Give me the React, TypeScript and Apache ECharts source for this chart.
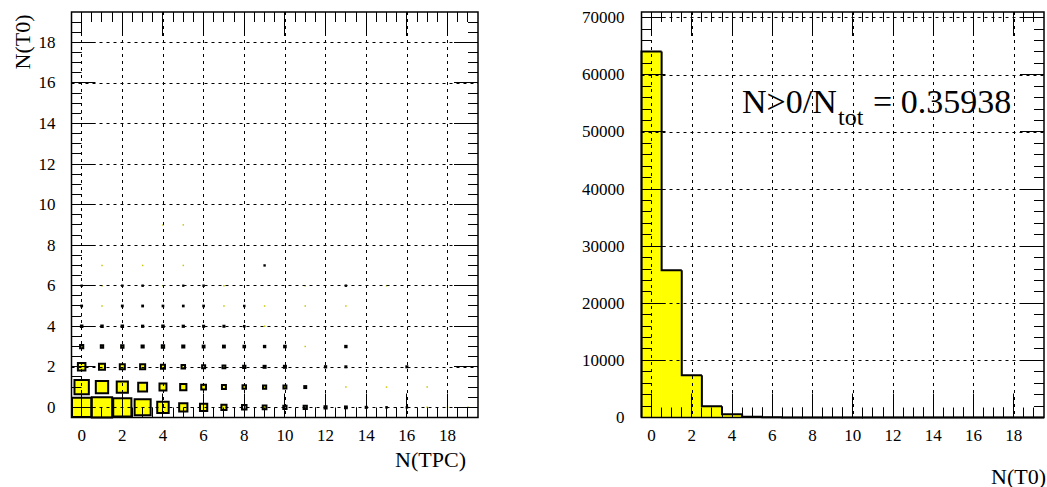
import React, { useEffect, useRef } from 'react';
import * as echarts from 'echarts';

// bins (shared by N(TPC) and N(T0))
const BINS = [0, 1, 2, 3, 4, 5, 6, 7, 8, 9, 10, 11, 12, 13, 14, 15, 16, 17, 18, 19];
const BIN_TICKS = [0, 2, 4, 6, 8, 10, 12, 14, 16, 18];
const COUNT_TICKS = [0, 10000, 20000, 30000, 40000, 50000, 60000, 70000];

// right panel: N(T0) distribution
const T0_COUNTS = [64062, 25800, 7400, 1950, 550, 150, 50, 20, 10, 5, 3, 0, 0, 0, 0, 0, 0, 0, 0, 0];

// left panel: counts per N(TPC) bin, one array per N(T0) row
const ROW_T0_0 = [13870, 15425, 12350, 9615, 4890, 2535, 1975, 985, 755, 525, 385, 385, 170, 125, 43, 11, 11, 2, 2, 2];
const ROW_T0_1 = [7700, 5700, 4650, 2950, 1800, 1450, 840, 580, 450, 375, 330, 145, 0, 3, 0, 2, 0, 2, 0, 0];
const ROW_T0_2 = [2100, 1350, 950, 950, 600, 460, 340, 300, 200, 150, 150, 0, 60, 40, 0, 0, 40, 0, 0, 0];
const ROW_T0_3 = [380, 210, 210, 170, 210, 170, 125, 125, 95, 70, 95, 2, 0, 70, 0, 0, 0, 0, 0, 0];
const ROW_T0_4 = [85, 85, 85, 57, 85, 57, 41, 41, 15, 3, 0, 0, 0, 0, 0, 0, 0, 0, 0, 0];
const ROW_T0_5 = [25, 3, 25, 25, 18, 18, 18, 3, 8, 3, 0, 3, 0, 3, 0, 0, 0, 0, 0, 0];
const ROW_T0_6 = [6, 2, 8, 8, 3, 4, 8, 2, 0, 0, 0, 2, 0, 8, 0, 2, 0, 0, 0, 0];
const ROW_T0_7 = [0, 2, 0, 2, 0, 2, 0, 0, 0, 5, 0, 0, 0, 0, 0, 0, 0, 0, 0, 0];
const ROW_T0_8 = [0, 0, 0, 0, 0, 0, 0, 0, 0, 0, 0, 0, 0, 0, 0, 0, 0, 0, 0, 0];
const ROW_T0_9 = [0, 0, 0, 0, 1, 3, 0, 0, 0, 0, 0, 0, 0, 0, 0, 0, 0, 0, 0, 0];
const ROWS = [ROW_T0_0, ROW_T0_1, ROW_T0_2, ROW_T0_3, ROW_T0_4, ROW_T0_5, ROW_T0_6, ROW_T0_7, ROW_T0_8, ROW_T0_9];

const X_TITLE_LEFT = 'N(TPC)';
const Y_TITLE_LEFT = 'N(T0)';
const X_TITLE_RIGHT = 'N(T0)';

const FONT = 'Liberation Serif';
const YELLOW = '#ffff00';

const BIN_MIN = -0.5;
const BIN_MAX = 19.5;
const COUNT_MAX = 71000;

export default function App() {
  const ref = useRef<HTMLDivElement>(null);

  useEffect(() => {
    if (!ref.current) return;
    const chart = echarts.init(ref.current, undefined, { renderer: 'svg' });

    const boxData: number[][] = [];
    ROWS.forEach((row, y) => row.forEach((v, i) => { if (v > 0) boxData.push([BINS[i], y, v]); }));
    const maxCount = Math.max(...boxData.map(d => d[2]));

    const histData = BINS.map((b, i) => [b, T0_COUNTS[i]]);
    const total = T0_COUNTS.reduce((a, b) => a + b, 0);
    const ratio = (total - T0_COUNTS[0]) / total;

    const binMinor: number[] = [];
    BIN_TICKS.forEach(t => [-0.5, 0.5, 1, 1.5].forEach(d => { const v = t + d; if (v > BIN_MIN && v < BIN_MAX) binMinor.push(v); }));
    const countMinor: number[] = [];
    COUNT_TICKS.forEach(t => [2000, 4000, 6000, 8000].forEach(d => { if (t + d < COUNT_MAX) countMinor.push(t + d); }));

    const labelStyle = { color: '#000', fontFamily: FONT, fontSize: 17 };
    const intFmt = (v: number) => (Math.abs(v - Math.round(v)) < 1e-9 ? String(Math.round(v)) : '');
    const splitLine = { show: true, showMinLine: false, showMaxLine: false, lineStyle: { color: '#000', width: 1, type: [3, 4] } };

    const binAxis = (grid: number, margin: number) => ({
      type: 'value', gridIndex: grid, min: BIN_MIN, max: BIN_MAX, minInterval: 2, maxInterval: 2, splitNumber: 10, z: 5,
      axisLine: { show: false, onZero: false }, axisTick: { show: false },
      axisLabel: { ...labelStyle, formatter: intFmt, margin }, splitLine,
    });

    const gridStyle = { show: true, z: 6, backgroundColor: 'transparent', borderColor: '#000', borderWidth: 1.5, containLabel: false };

    chart.setOption({
      animation: false,
      backgroundColor: '#fff',
      textStyle: { fontFamily: FONT },
      grid: [
        { ...gridStyle, left: 71.5, top: 12, width: 406.5, height: 405.5 },
        { ...gridStyle, left: 641.5, top: 12, width: 404.5, height: 405.5 },
      ],
      xAxis: [binAxis(0, 9), binAxis(1, 9)],
      yAxis: [
        binAxis(0, 16),
        {
          type: 'value', gridIndex: 1, min: 0, max: COUNT_MAX, interval: 10000, z: 5,
          axisLine: { show: false, onZero: false }, axisTick: { show: false },
          axisLabel: { ...labelStyle, margin: 17, formatter: (v: number) => (v % 10000 === 0 ? String(v) : '') },
          splitLine,
        },
      ],
      series: [
        {
          type: 'custom',
          xAxisIndex: 0,
          yAxisIndex: 0,
          z: 2,
          clip: false,
          data: boxData,
          renderItem: (params: any, api: any) => {
            const x = api.value(0), y = api.value(1), v = api.value(2);
            const c = api.coord([x, y]);
            const s = api.size([1, 1]);
            if (v < 4) {
              return { type: 'rect', shape: { x: c[0] - 0.75, y: c[1] - 0.75, width: 1.5, height: 1.5 }, style: { fill: '#c8c800' } };
            }
            const r = Math.sqrt(v / maxCount);
            const w = s[0] * r, h = s[1] * r;
            return {
              type: 'rect',
              shape: { x: c[0] - w / 2, y: c[1] - h / 2, width: w, height: h },
              style: { fill: YELLOW, stroke: '#000', lineWidth: 2 },
            };
          },
        },
        {
          type: 'custom',
          xAxisIndex: 1,
          yAxisIndex: 1,
          z: 2,
          clip: false,
          data: histData,
          renderItem: (params: any, api: any) => {
            const i = params.dataIndex;
            const x = api.value(0), v = api.value(1);
            const prev = i > 0 ? T0_COUNTS[i - 1] : 0;
            const p0 = api.coord([x - 0.5, 0]);
            const p1 = api.coord([x + 0.5, v]);
            const pp = api.coord([x - 0.5, prev]);
            const pts = [[pp[0], pp[1]], [p0[0], p1[1]], [p1[0], p1[1]]];
            if (i === T0_COUNTS.length - 1) pts.push([p1[0], p0[1]]);
            return {
              type: 'group',
              children: [
                { type: 'rect', shape: { x: p0[0], y: p1[1], width: p1[0] - p0[0], height: p0[1] - p1[1] }, style: { fill: YELLOW } },
                { type: 'polyline', z2: 5, shape: { points: pts }, style: { stroke: '#000', lineWidth: 2, fill: 'none' } },
              ],
            };
          },
        },
      ],
    });

    // frame ticks placed through the axes' own scales (convertToPixel)
    const tickRects: any[] = [];
    const addTicks = (gridIndex: number, yMin: number, yMax: number, yMajor: number[], yMinor: number[]) => {
      const lb = chart.convertToPixel({ gridIndex } as any, [BIN_MIN, yMin]) as number[];
      const rt = chart.convertToPixel({ gridIndex } as any, [BIN_MAX, yMax]) as number[];
      if (!lb || !rt) return;
      const addX = (v: number, len: number) => {
        const px = Math.floor((chart.convertToPixel({ gridIndex } as any, [v, yMin]) as number[])[0]);
        tickRects.push({ type: 'rect', z: 20, silent: true, shape: { x: px, y: lb[1] - len, width: 1, height: len }, style: { fill: '#000' } });
        tickRects.push({ type: 'rect', z: 20, silent: true, shape: { x: px, y: rt[1], width: 1, height: len }, style: { fill: '#000' } });
      };
      const addY = (v: number, len: number) => {
        const py = Math.floor((chart.convertToPixel({ gridIndex } as any, [BIN_MIN, v]) as number[])[1]);
        tickRects.push({ type: 'rect', z: 20, silent: true, shape: { x: lb[0], y: py, width: len, height: 1 }, style: { fill: '#000' } });
        tickRects.push({ type: 'rect', z: 20, silent: true, shape: { x: rt[0] - len, y: py, width: len, height: 1 }, style: { fill: '#000' } });
      };
      BIN_TICKS.forEach(v => addX(v, 24));
      binMinor.forEach(v => addX(v, 10));
      yMajor.forEach(v => addY(v, 24));
      yMinor.forEach(v => addY(v, 10));
    };
    try {
      addTicks(0, BIN_MIN, BIN_MAX, BIN_TICKS, binMinor);
      addTicks(1, 0, COUNT_MAX, COUNT_TICKS, countMinor);
    } catch (e) {
      // ignore: ticks are decoration only
    }

    chart.setOption({
      graphic: [
        { type: 'text', x: 22, y: 42, rotation: Math.PI / 2, style: { text: Y_TITLE_LEFT, font: `22px ${FONT}`, fill: '#000', align: 'center', verticalAlign: 'middle' } },
        { type: 'text', x: 466, y: 459, style: { text: X_TITLE_LEFT, font: `22px ${FONT}`, fill: '#000', align: 'right', verticalAlign: 'middle' } },
        { type: 'text', x: 1046, y: 476, style: { text: X_TITLE_RIGHT, font: `22px ${FONT}`, fill: '#000', align: 'right', verticalAlign: 'middle' } },
        { type: 'text', x: 742, y: 101.5, z: 10, style: { text: 'N>0/N', font: `34px ${FONT}`, fill: '#000', align: 'left', verticalAlign: 'middle' } },
        { type: 'text', x: 838, y: 117, z: 10, style: { text: 'tot', font: `24px ${FONT}`, fill: '#000', align: 'left', verticalAlign: 'middle' } },
        { type: 'text', x: 873, y: 101.5, z: 10, style: { text: '= ' + ratio.toFixed(5), font: `34px ${FONT}`, fill: '#000', align: 'left', verticalAlign: 'middle' } },
        ...tickRects,
      ],
    });

    return () => chart.dispose();
  }, []);

  return <div ref={ref} style={{ position: 'fixed', left: 0, top: 0, width: 1047, height: 487, background: '#fff' }} />;
}
